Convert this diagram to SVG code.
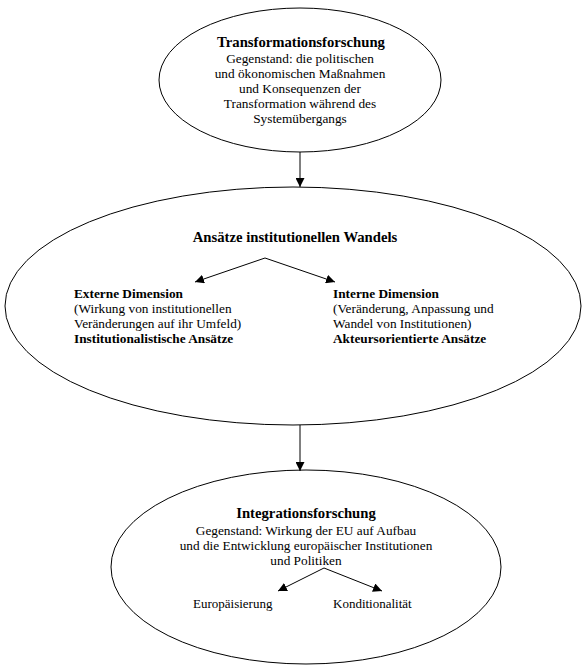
<svg xmlns="http://www.w3.org/2000/svg" width="586" height="671" viewBox="0 0 586 671">
<style>
.node{fill:#fff;stroke:#000;stroke-width:1}
text{font-family:"Liberation Serif","Times New Roman",serif;font-size:13.3px;fill:#000}
.t{font-weight:bold;font-size:14.7px}
.b{font-weight:bold}
.c{text-anchor:middle}
.s{font-size:13px}
.edge{stroke:#000;stroke-width:1;fill:none;marker-end:url(#ah)}
</style>
<defs>
<marker id="ah" viewBox="0 0 10 10" refX="10" refY="5" markerWidth="9" markerHeight="9" markerUnits="userSpaceOnUse" orient="auto">
<path d="M0,0 L10,5 L0,10 z" fill="#000"/>
</marker>
</defs>
<rect width="586" height="671" fill="#fff"/>
<g id="n-transformation">
<ellipse class="node" cx="300" cy="80" rx="141" ry="72"/>
<text class="c t" x="301" y="47">Transformationsforschung</text>
<text class="c" x="300" y="63">Gegenstand: die politischen</text>
<text class="c" x="300" y="78">und ökonomischen Maßnahmen</text>
<text class="c" x="300" y="93">und Konsequenzen der</text>
<text class="c" x="300" y="108">Transformation während des</text>
<text class="c" x="300" y="123">Systemübergangs</text>
</g>
<g id="n-wandel">
<ellipse class="node" cx="293" cy="306" rx="288" ry="119"/>
<text class="c t" x="295" y="242">Ansätze institutionellen Wandels</text>
<text class="b" x="74" y="298">Externe Dimension</text>
<text x="74" y="313">(Wirkung von institutionellen</text>
<text x="74" y="328">Veränderungen auf ihr Umfeld)</text>
<text class="b" x="74" y="343">Institutionalistische Ansätze</text>
<text class="b" x="333" y="298">Interne Dimension</text>
<text x="333" y="313">(Veränderung, Anpassung und</text>
<text x="333" y="328">Wandel von Institutionen)</text>
<text class="b" x="333" y="343">Akteursorientierte Ansätze</text>
</g>
<g id="n-integration">
<ellipse class="node" cx="306" cy="567" rx="195" ry="97"/>
<text class="c t" x="306" y="518">Integrationsforschung</text>
<text class="c" x="306" y="535">Gegenstand: Wirkung der EU auf Aufbau</text>
<text class="c" x="306" y="550">und die Entwicklung europäischer Institutionen</text>
<text class="c" x="306" y="565">und Politiken</text>
<text class="s" x="193" y="608">Europäisierung</text>
<text class="s" x="333" y="608">Konditionalität</text>
</g>
<g id="connectors">
<line class="edge" x1="300" y1="152" x2="300" y2="187"/>
<line class="edge" x1="265" y1="258" x2="195" y2="282"/>
<line class="edge" x1="265" y1="258" x2="335" y2="282"/>
<line class="edge" x1="300" y1="425" x2="300" y2="471"/>
<line class="edge" x1="324" y1="568" x2="278" y2="591"/>
<line class="edge" x1="324" y1="568" x2="382" y2="591"/>
</g>
</svg>
